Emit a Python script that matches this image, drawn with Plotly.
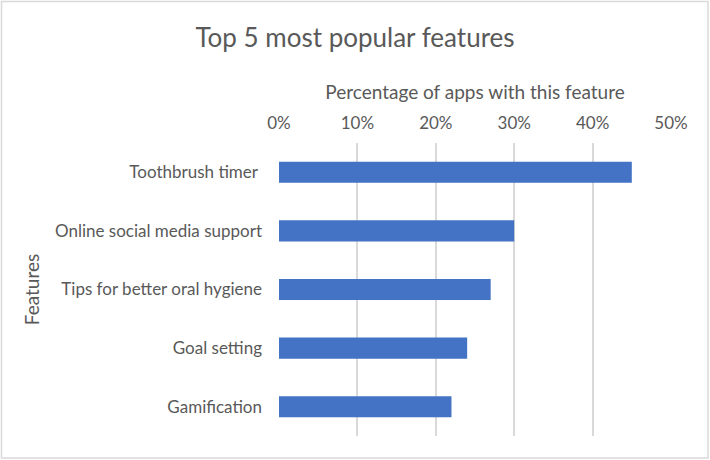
import plotly.graph_objects as go

# Data
features = ["Toothbrush timer ", "Online social media support", "Tips for better oral hygiene",
            "Goal setting", "Gamification"]
percentages = [0.45, 0.30, 0.27, 0.24, 0.22]
tick_vals = [0, 0.1, 0.2, 0.3, 0.4, 0.5]

TEXT = "#595959"
GRID = "#d9d9d9"
FONT = "Lato"

fig = go.Figure()
fig.add_trace(go.Bar(
    x=percentages, y=features, orientation="h",
    marker=dict(color="#4472C4", line=dict(width=0)),
))

W, H = 710, 460
ml, mr, mt, mb = 279, 39, 143, 24
pw, ph = W - ml - mr, H - mt - mb

fig.update_layout(
    width=W, height=H,
    margin=dict(l=ml, r=mr, t=mt, b=mb, autoexpand=False),
    paper_bgcolor="white", plot_bgcolor="white",
    font=dict(family=FONT, color=TEXT),
    showlegend=False,
    bargap=0.64,
    title=dict(text="Top 5 most popular features", x=0.5, xref="container", xanchor="center",
               y=1 - 38 / H, yanchor="middle", font=dict(size=26, color=TEXT)),
    xaxis=dict(
        side="top", range=[0, 0.5], tickvals=tick_vals, tickformat=".0%",
        showgrid=True, gridcolor=GRID, gridwidth=2, zeroline=False, automargin=False,
        showline=False, ticks="", tickfont=dict(size=17, color=TEXT),
        ticklabelstandoff=10,
        title=dict(text="Percentage of apps with this feature", font=dict(size=19, color=TEXT),
                   standoff=6),
    ),
    yaxis=dict(
        autorange="reversed", showgrid=False, showline=False, ticks="", automargin=False,
        tickfont=dict(size=17, color=TEXT), ticklabelstandoff=16,
        title=dict(text="Features", font=dict(size=19, color=TEXT), standoff=10),
    ),
)

# light grey chart border (pixel edges converted to paper fractions)
fig.add_shape(type="rect", xref="paper", yref="paper",
              x0=(1.5 - ml) / pw, x1=(W - 2 - ml) / pw,
              y0=-(H - 2 - (H - mb)) / ph, y1=((H - mb) - 1.5) / ph,
              line=dict(color=GRID, width=1.5), fillcolor="rgba(0,0,0,0)", layer="below")

# drop the default page margin so the chart sits at the window's top-left corner
fig.write_html("out.html", config={"displayModeBar": False},
               post_script="document.body.style.margin='0';")
